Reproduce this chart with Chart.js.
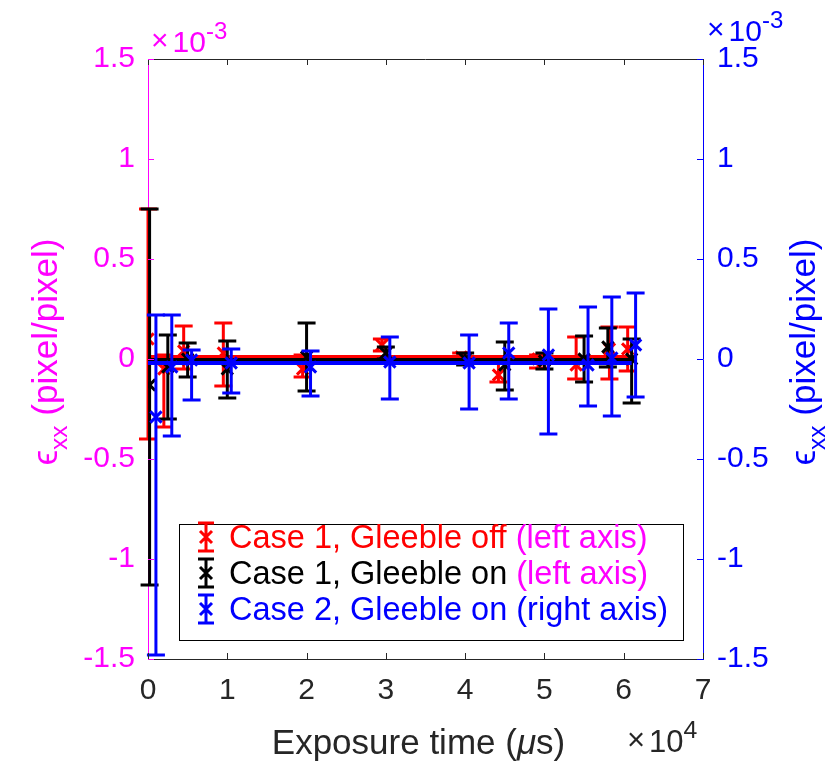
<!DOCTYPE html>
<html>
<head>
<meta charset="utf-8">
<script src="https://cdn.jsdelivr.net/npm/chart.js@4.4.1/dist/chart.umd.min.js"></script>
<style>
html, body { margin: 0; padding: 0; background: #fff; }
</style>
</head>
<body>
<canvas id="chart" width="840" height="768"></canvas>
<script>
// tick labels
const xTickLabels = ['0', '1', '2', '3', '4', '5', '6', '7'];
const yTickLabels = ['-1.5', '-1', '-0.5', '0', '0.5', '1', '1.5'];

// Case 1, Gleeble off (left axis), values x1e-3, time x1e4
const redX    = [0.0, 0.2, 0.45, 0.95, 1.95, 2.95, 3.95, 4.42, 4.92, 5.4, 5.82, 6.05];
const redY    = [0.1, -0.05, 0.04, 0.03, -0.05, 0.07, 0.01, -0.08, 0.0, -0.03, 0.05, 0.05];
const redHigh = [0.75, 0.02, 0.165, 0.18, 0.02, 0.1, 0.03, 0.0, 0.02, 0.11, 0.16, 0.16];
const redLow  = [-0.4, -0.34, -0.05, -0.135, -0.09, 0.04, -0.02, -0.115, -0.045, -0.1, -0.1, -0.06];

// Case 1, Gleeble on (left axis)
const blackX    = [0.02, 0.25, 0.5, 1.0, 2.0, 3.0, 4.0, 4.5, 5.0, 5.5, 5.8, 6.1];
const blackY    = [-0.13, -0.04, 0.0, -0.05, 0.01, 0.03, 0.0, -0.03, -0.01, 0.0, 0.06, 0.0];
const blackHigh = [0.75, 0.12, 0.08, 0.09, 0.18, 0.06, 0.03, 0.085, 0.03, 0.115, 0.155, 0.1];
const blackLow  = [-1.13, -0.3, -0.09, -0.195, -0.16, 0.0, -0.03, -0.155, -0.05, -0.115, -0.04, -0.22];

// Case 2, Gleeble on (right axis)
const blueX    = [0.1, 0.3, 0.55, 1.05, 2.05, 3.05, 4.05, 4.55, 5.05, 5.55, 5.85, 6.15];
const blueY    = [-0.29, -0.04, -0.005, -0.02, -0.04, -0.015, -0.02, 0.03, 0.02, -0.03, 0.005, 0.07];
const blueHigh = [0.22, 0.22, 0.045, 0.05, 0.04, 0.11, 0.12, 0.18, 0.25, 0.26, 0.31, 0.33];
const blueLow  = [-1.48, -0.385, -0.205, -0.17, -0.185, -0.2, -0.25, -0.2, -0.375, -0.235, -0.285, -0.19];

// mean lines
const meanX = [0, 6.1];
const redMean = [0.01, 0.01];
const blackMean = [-0.005, -0.005];
const blueMean = [-0.02, -0.02];

const legendMain = ['Case 1, Gleeble off', 'Case 1, Gleeble on', 'Case 2, Gleeble on'];
const legendAxis = [' (left axis)', ' (left axis)', ' (right axis)'];

const RED = '#ff0000', BLACK = '#000000', BLUE = '#0000ff', MAGENTA = '#ff00ff', AXIS = '#262626';
const FONT = '"Liberation Sans", Arial, Helvetica, sans-serif';

const pts = (xs, ys) => xs.map((x, i) => ({ x: x, y: ys[i] }));

function errSet(label, xs, ys, lo, hi, color, axis, order) {
    return {
        type: 'scatter', label: label, data: pts(xs, ys), errLow: lo, errHigh: hi,
        yAxisID: axis, borderColor: color, backgroundColor: color,
        pointStyle: 'crossRot', pointRadius: 8, borderWidth: 3, showLine: false, order: order
    };
}
function meanSet(ys, color, axis, order) {
    return {
        type: 'line', data: pts(meanX, ys), yAxisID: axis, borderColor: color,
        borderWidth: 4, pointRadius: 0, fill: false, order: order
    };
}

const errorBars = {
    id: 'errorBars',
    beforeDatasetDraw(chart, args) {
        const ds = chart.data.datasets[args.index];
        if (!ds.errLow) return;
        const xs = chart.scales.x, ys = chart.scales[ds.yAxisID];
        const ctx = chart.ctx, cap = 9;
        ctx.save();
        ctx.strokeStyle = ds.borderColor;
        ctx.lineWidth = 3;
        ds.data.forEach((p, i) => {
            const px = xs.getPixelForValue(p.x);
            const lo = ys.getPixelForValue(ds.errLow[i]);
            const hi = ys.getPixelForValue(ds.errHigh[i]);
            ctx.beginPath();
            ctx.moveTo(px, lo); ctx.lineTo(px, hi);
            ctx.moveTo(px - cap, lo); ctx.lineTo(px + cap, lo);
            ctx.moveTo(px - cap, hi); ctx.lineTo(px + cap, hi);
            ctx.stroke();
        });
        ctx.restore();
    }
};

function drawPower(ctx, x, y, base, exp, color, size) {
    ctx.fillStyle = color;
    ctx.textAlign = 'left';
    ctx.textBaseline = 'alphabetic';
    ctx.font = size + 'px ' + FONT;
    ctx.fillText('\u00d7', x, y - 2);
    let w = ctx.measureText('\u00d7').width + 4;
    ctx.fillText(base, x + w, y);
    w += ctx.measureText(base).width;
    ctx.font = (size * 0.8) + 'px ' + FONT;
    ctx.fillText(exp, x + w, y - size * 0.45);
}

function drawEpsTitle(ctx, cx, cy, color, size) {
    ctx.save();
    ctx.translate(cx, cy);
    ctx.rotate(-Math.PI / 2);
    ctx.fillStyle = color;
    ctx.textBaseline = 'alphabetic';
    ctx.textAlign = 'left';
    const fMain = size + 'px ' + FONT, fSub = (size * 0.7) + 'px ' + FONT;
    ctx.font = fMain;
    const wE = ctx.measureText('\u03f5').width;
    const wR = ctx.measureText(' (pixel/pixel)').width;
    ctx.font = fSub;
    const wS = ctx.measureText('xx').width;
    let x = -(wE + wS + wR) / 2;
    const base = size * 0.36;
    ctx.font = fMain; ctx.fillText('\u03f5', x, base); x += wE;
    ctx.font = fSub; ctx.fillText('xx', x, base + size * 0.3); x += wS;
    ctx.font = fMain; ctx.fillText(' (pixel/pixel)', x, base);
    ctx.restore();
}

const frame = {
    id: 'frame',
    afterDraw(chart) {
        const ctx = chart.ctx, a = chart.chartArea;
        const xs = chart.scales.x, yl = chart.scales.y, yr = chart.scales.y2;
        ctx.save();
        // top border
        ctx.strokeStyle = AXIS; ctx.lineWidth = 1;
        ctx.beginPath(); ctx.moveTo(a.left, a.top + 0.5); ctx.lineTo(a.right, a.top + 0.5); ctx.stroke();
        // inward ticks
        const tl = 6;
        xTickLabels.forEach((t, i) => {
            const px = Math.round(xs.getPixelForValue(i)) + 0.5;
            ctx.strokeStyle = AXIS;
            ctx.beginPath();
            ctx.moveTo(px, a.bottom); ctx.lineTo(px, a.bottom - tl);
            ctx.moveTo(px, a.top); ctx.lineTo(px, a.top + tl);
            ctx.stroke();
        });
        yTickLabels.forEach((t, i) => {
            const v = -1.5 + i * 0.5;
            const pl = Math.round(yl.getPixelForValue(v)) + 0.5;
            ctx.strokeStyle = MAGENTA;
            ctx.beginPath(); ctx.moveTo(a.left, pl); ctx.lineTo(a.left + tl, pl); ctx.stroke();
            const pr = Math.round(yr.getPixelForValue(v)) + 0.5;
            ctx.strokeStyle = BLUE;
            ctx.beginPath(); ctx.moveTo(a.right, pr); ctx.lineTo(a.right - tl, pr); ctx.stroke();
        });

        // exponents
        drawPower(ctx, a.left + 3, 52, '10', '-3', MAGENTA, 30);
        drawPower(ctx, a.right + 4, 41, '10', '-3', BLUE, 30);
        drawPower(ctx, 627, 752, '10', '4', AXIS, 31);

        // x title
        ctx.fillStyle = AXIS;
        ctx.textBaseline = 'alphabetic';
        const f1 = '35px ' + FONT, f2 = 'italic 35px ' + FONT;
        ctx.font = f1; const wa = ctx.measureText('Exposure time (').width;
        ctx.font = f2; const wb = ctx.measureText('\u03bc').width;
        ctx.font = f1; const wc = ctx.measureText('s)').width;
        let x0 = (a.left + a.right) / 2 - (wa + wb + wc) / 2 - 7;
        ctx.textAlign = 'left';
        ctx.font = f1; ctx.fillText('Exposure time (', x0, 754);
        ctx.font = f2; ctx.fillText('\u03bc', x0 + wa, 754);
        ctx.font = f1; ctx.fillText('s)', x0 + wa + wb, 754);

        // y titles
        drawEpsTitle(ctx, 44, 352, MAGENTA, 35);
        drawEpsTitle(ctx, 802, 352, BLUE, 35);

        // legend
        const lx = 179, ly = 524, lw = 504, lh = 116;
        ctx.fillStyle = '#fff';
        ctx.fillRect(lx, ly, lw, lh);
        ctx.strokeStyle = BLACK; ctx.lineWidth = 1;
        ctx.strokeRect(lx + 0.5, ly + 0.5, lw, lh);
        const colors = [RED, BLACK, BLUE];
        const axisColors = [MAGENTA, MAGENTA, BLUE];
        const rows = [537, 573, 609];
        legendMain.forEach((txt, i) => {
            const cy = rows[i], ix = 206;
            ctx.strokeStyle = colors[i]; ctx.lineWidth = 3;
            ctx.beginPath();
            ctx.moveTo(ix, cy - 14); ctx.lineTo(ix, cy + 14);
            ctx.moveTo(ix - 8, cy - 14); ctx.lineTo(ix + 8, cy - 14);
            ctx.moveTo(ix - 8, cy + 14); ctx.lineTo(ix + 8, cy + 14);
            ctx.moveTo(ix - 6, cy - 6); ctx.lineTo(ix + 6, cy + 6);
            ctx.moveTo(ix - 6, cy + 6); ctx.lineTo(ix + 6, cy - 6);
            ctx.stroke();
            ctx.font = '32.5px ' + FONT;
            ctx.textAlign = 'left';
            ctx.fillStyle = colors[i];
            ctx.fillText(txt, 229, cy + 11);
            const w = ctx.measureText(txt).width;
            ctx.fillStyle = axisColors[i];
            ctx.fillText(legendAxis[i], 229 + w, cy + 11);
        });
        ctx.restore();
    }
};

new Chart(document.getElementById('chart'), {
    data: {
        datasets: [
            meanSet(redMean, RED, 'y', 6),
            errSet(legendMain[0], redX, redY, redLow, redHigh, RED, 'y', 5),
            meanSet(blackMean, BLACK, 'y', 4),
            errSet(legendMain[1], blackX, blackY, blackLow, blackHigh, BLACK, 'y', 3),
            meanSet(blueMean, BLUE, 'y2', 2),
            errSet(legendMain[2], blueX, blueY, blueLow, blueHigh, BLUE, 'y2', 1)
        ]
    },
    options: {
        responsive: false,
        animation: false,
        events: [],
        layout: { padding: { top: 59, left: 0, right: 0, bottom: 0 } },
        plugins: { legend: { display: false }, tooltip: { enabled: false } },
        scales: {
            x: {
                type: 'linear', min: 0, max: 7,
                afterFit: (s) => { s.height = 109; },
                grid: { display: true, drawOnChartArea: false, drawTicks: false },
                border: { color: AXIS, width: 1 },
                ticks: {
                    stepSize: 1, padding: 14, color: AXIS, font: { family: FONT, size: 30 },
                    callback: (v) => xTickLabels[Math.round(v)]
                }
            },
            y: {
                type: 'linear', position: 'left', min: -1.5, max: 1.5,
                afterFit: (s) => { s.width = 148; },
                grid: { display: true, drawOnChartArea: false, drawTicks: false },
                border: { color: MAGENTA, width: 1 },
                ticks: {
                    stepSize: 0.5, padding: 13, color: MAGENTA, font: { family: FONT, size: 30 },
                    callback: (v) => yTickLabels[Math.round((v + 1.5) * 2)]
                }
            },
            y2: {
                type: 'linear', position: 'right', min: -1.5, max: 1.5,
                afterFit: (s) => { s.width = 137; },
                grid: { display: true, drawOnChartArea: false, drawTicks: false },
                border: { color: BLUE, width: 1 },
                ticks: {
                    stepSize: 0.5, padding: 14, color: BLUE, font: { family: FONT, size: 30 },
                    callback: (v) => yTickLabels[Math.round((v + 1.5) * 2)]
                }
            }
        }
    },
    plugins: [errorBars, frame]
});
</script>
</body>
</html>
